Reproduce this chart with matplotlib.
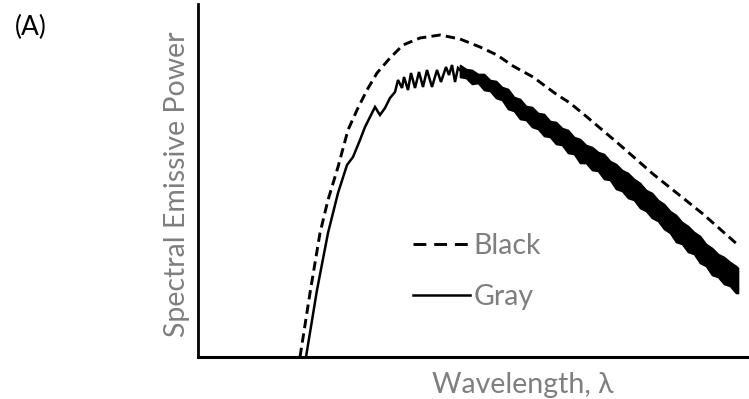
import matplotlib
matplotlib.use("Agg")
import matplotlib.pyplot as plt
from matplotlib.lines import Line2D

# ---- data (wavelength in arbitrary units, power in arbitrary units) ----
black_x = [102, 112, 122, 130, 140, 150, 159, 169, 179, 192, 205, 222, 242, 262,
           282, 299, 315, 335, 358, 372, 389, 422, 455, 505, 540]
black_y = [0, 64, 124, 157, 190, 227, 247, 267, 284, 299, 312, 319, 322, 318,
           310, 302, 291, 280, 263, 254, 240, 212, 183, 143, 112]

gray_x = [108, 119, 130, 140, 149, 155, 162, 167, 172, 177, 182, 187, 192, 197,
          200, 204, 206, 210, 213, 217, 221, 225, 229, 234, 239, 243, 248, 251,
          254, 257, 260, 264]
gray_y = [0, 67, 124, 164, 192, 200, 217, 230, 240, 250, 242, 249, 259, 265,
          277, 269, 280, 267, 284, 269, 285, 270, 287, 270, 287, 275, 290, 282,
          292, 275, 289, 285]

band_x = [262, 268, 274, 280, 286, 292, 298, 304, 310, 316, 322, 328, 334, 340,
          346, 352, 358, 364, 370, 376, 382, 388, 394, 400, 406, 412, 418, 424,
          430, 436, 442, 448, 454, 460, 466, 472, 478, 484, 490, 496, 502, 508,
          514, 520, 526, 532, 538, 540]
band_top = [292, 288, 287, 283, 283, 277, 276, 270, 268, 260, 258, 251, 250, 244,
            243, 236, 235, 229, 227, 220, 218, 212, 210, 205, 203, 196, 193, 187,
            184, 178, 174, 167, 164, 157, 153, 146, 142, 135, 131, 125, 121, 113,
            109, 103, 100, 95, 91, 89]
band_bottom = [280, 279, 273, 274, 267, 266, 259, 257, 248, 246, 238, 237, 230, 228,
               221, 220, 213, 212, 204, 203, 194, 194, 187, 186, 178, 177, 168, 166,
               159, 157, 149, 146, 139, 136, 128, 124, 115, 113, 105, 103, 94, 91,
               82, 80, 73, 71, 64, 64]

labels = ["Black", "Gray"]
x_label = "Wavelength, λ"
y_label = "Spectral Emissive Power"
panel = "(A)"

# ---- figure ----
plt.rcParams['font.family'] = ['Lato', 'DejaVu Sans']
W, H = 749, 399
fig = plt.figure(figsize=(W / 100, H / 100), dpi=100)
ax = fig.add_axes([198 / W, (H - 357) / H, (W - 198) / W, 353 / H])
ax.set_xlim(0, 551)
ax.set_ylim(0, 353)

ax.plot(black_x, black_y, color='black', lw=2.1, dashes=(3.2, 1.8),
        dash_capstyle='butt')
ax.plot(gray_x, gray_y, color='black', lw=1.8, solid_joinstyle='miter')
ax.fill_between(band_x, band_bottom, band_top, color='black', lw=1.2,
                edgecolor='black')

for s in ['top', 'right']:
    ax.spines[s].set_visible(False)
ax.spines['left'].set_linewidth(2.0)
ax.spines['bottom'].set_linewidth(2.2)
ax.set_xticks([])
ax.set_yticks([])

gray_txt = '#7f7f7f'
fs = 20.5

fig.text(432 / W, 1 - 393 / H, x_label, fontsize=fs, color=gray_txt,
         ha='left', va='baseline')
fig.text(177 / W, 1 - 184 / H, y_label, fontsize=fs, color=gray_txt,
         ha='center', va='center', rotation=90)

handles = [Line2D([], [], color='black', lw=2.1, dashes=(4.4, 2.7), dash_capstyle='butt'),
           Line2D([], [], color='black', lw=1.8)]
leg = ax.legend(handles, labels, loc='center left',
                bbox_to_anchor=((413 - 198) / 551, (357 - 271.5) / 353),
                frameon=False, fontsize=fs, handlelength=2.0, handletextpad=0.12,
                labelspacing=0.85, borderpad=0, borderaxespad=0)
for t in leg.get_texts():
    t.set_color(gray_txt)

fig.text(15 / W, 1 - 27 / H, panel, fontsize=19, color='black', va='center', ha='left')

fig.savefig('out.png', dpi=100)
